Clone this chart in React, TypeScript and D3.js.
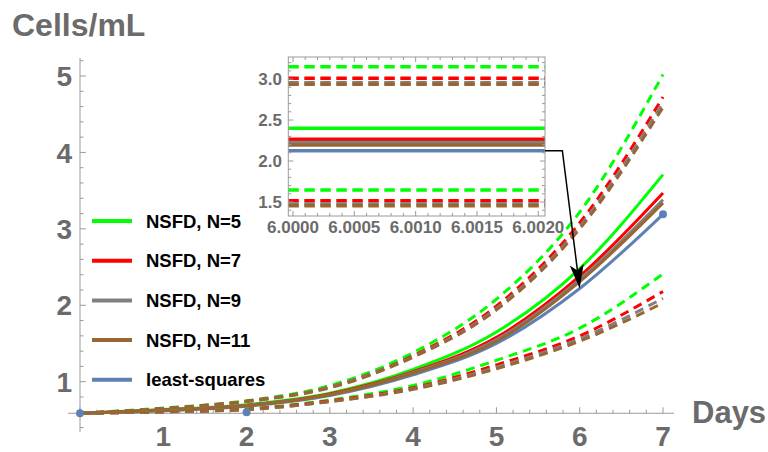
import React from 'react';
import * as d3 from 'd3';

// values (main plot, days 0..7)
const days = [0, 1, 2, 3, 4, 5, 6, 7];
const n5Mid = [0.587, 0.635, 0.7, 0.85, 1.16, 1.65, 2.48, 3.71];
const n5Hi = [0.587, 0.655, 0.75, 0.95, 1.38, 2.08, 3.22, 5.02];
const n5Lo = [0.587, 0.61, 0.645, 0.76, 0.95, 1.28, 1.7, 2.41];
const n7Mid = [0.587, 0.63, 0.69, 0.84, 1.13, 1.58, 2.38, 3.47];
const n7Hi = [0.587, 0.65, 0.745, 0.93, 1.34, 1.99, 3.08, 4.725];
const n7Lo = [0.587, 0.607, 0.64, 0.75, 0.92, 1.22, 1.6, 2.18];
const n9Mid = [0.587, 0.628, 0.69, 0.83, 1.12, 1.55, 2.34, 3.38];
const n9Hi = [0.587, 0.648, 0.74, 0.93, 1.33, 1.96, 3.03, 4.65];
const n9Lo = [0.587, 0.606, 0.635, 0.74, 0.91, 1.19, 1.56, 2.09];
const n11Mid = [0.587, 0.627, 0.69, 0.83, 1.11, 1.53, 2.31, 3.34];
const n11Hi = [0.587, 0.647, 0.74, 0.92, 1.32, 1.94, 3.0, 4.59];
const n11Lo = [0.587, 0.605, 0.635, 0.74, 0.9, 1.17, 1.53, 2.03];
const lsq = [0.587, 0.62, 0.68, 0.82, 1.09, 1.5, 2.22, 3.19];
const obsDays = [0, 2, 7];
const obsVals = [0.587, 0.6, 3.19];

const legendLabels = ['NSFD, N=5', 'NSFD, N=7', 'NSFD, N=9', 'NSFD, N=11', 'least-squares'];
const xTicks = [1, 2, 3, 4, 5, 6, 7];
const yTicks = [1, 2, 3, 4, 5];

// inset: values at t = 6 (flat over 6.0000..6.0020)
const insetXTicks = [6.0, 6.0005, 6.001, 6.0015, 6.002];
const insetYTicks = [1.5, 2.0, 2.5, 3.0];
const insetHi = [3.15, 3.01, 2.955, 2.935];
const insetMid = [2.4, 2.265, 2.225, 2.195];
const insetLo = [1.646, 1.516, 1.476, 1.455];
const insetLsq = 2.125;

const colors = ['#00ff00', '#ff0000', '#808080', '#996633', '#5e81b5'];
const font = '"Liberation Sans", Arial, sans-serif';
const axisGray = '#9a9a9a';
const labelGray = '#6b6b6b';

const x = d3.scaleLinear().domain([0, 7]).range([80, 663]);
const y = d3.scaleLinear().domain([1, 5]).range([381.7, 76]);
const x0 = x(0);
const yAxisPos = y(0.587);

const ix = d3.scaleLinear().domain([6.0, 6.002]).range([293, 538.3]);
const iy = d3.scaleLinear().domain([1.5, 3.0]).range([202, 79]);
const iLeft = 288.3, iRight = 545, iTop = 57, iBottom = 216;

const line = d3
  .line<number>()
  .x((d, i) => x(days[i]))
  .y(d => y(d))
  .curve(d3.curveMonotoneX);

const mids = [n5Mid, n7Mid, n9Mid, n11Mid];
const his = [n5Hi, n7Hi, n9Hi, n11Hi];
const los = [n5Lo, n7Lo, n9Lo, n11Lo];

export default function App() {
  const xMinor = d3.range(0, 7.01, 0.2);
  const yMinor = d3.range(0.4, 5.21, 0.2);
  const ixMinor = d3.range(6.0, 6.00205, 0.0001);
  const iyMinor = d3.range(1.4, 3.25, 0.1);

  // arrow from the inset's least-squares line to the main curve at t=6
  const aStartX = iRight;
  const aStartY = iy(insetLsq);
  const tipX = x(6);
  const tipY = y(lsq[6]);
  const cornerX = (aStartX + tipX) / 2;
  const dx = tipX - cornerX, dy = tipY - aStartY;
  const len = Math.hypot(dx, dy);
  const ux = dx / len, uy = dy / len;
  const headL = 24, headW = 7;
  const bx = tipX - ux * headL, by = tipY - uy * headL;
  const nx = tipX - ux * headL * 0.75, ny = tipY - uy * headL * 0.75;
  const head = [
    [tipX, tipY],
    [bx - uy * headW, by + ux * headW],
    [nx, ny],
    [bx + uy * headW, by - ux * headW],
  ];

  return (
    <svg width={768} height={452} style={{ position: 'absolute', left: 0, top: 0, background: '#fff' }} fontFamily={font}>
      {/* axes */}
      <line x1={x0} x2={x0} y1={58} y2={432} stroke={axisGray} strokeWidth={1} />
      <line x1={68} x2={674} y1={yAxisPos} y2={yAxisPos} stroke={axisGray} strokeWidth={1} />
      {yMinor.map((v, i) => (
        <line key={'ym' + i} x1={x0} x2={x0 + (Math.abs(v - Math.round(v)) < 0.01 ? 6 : 3.5)} y1={y(v)} y2={y(v)} stroke={axisGray} />
      ))}
      {xMinor.map((v, i) => (
        <line key={'xm' + i} x1={x(v)} x2={x(v)} y1={yAxisPos} y2={yAxisPos - (Math.abs(v - Math.round(v)) < 0.01 ? 6 : 3.5)} stroke={axisGray} />
      ))}
      {yTicks.map(v => (
        <text key={'yl' + v} x={72} y={y(v)} dy="0.36em" textAnchor="end" fontSize={28} fontWeight="bold" fill={labelGray}>{v}</text>
      ))}
      {xTicks.map(v => (
        <text key={'xl' + v} x={x(v)} y={446} textAnchor="middle" fontSize={28} fontWeight="bold" fill={labelGray}>{v}</text>
      ))}
      <text x={12} y={36} fontSize={32} fontWeight="bold" fill={labelGray}>Cells/mL</text>
      <text x={692} y={423} fontSize={31} fontWeight="bold" fill={labelGray}>Days</text>

      {/* curves */}
      <path d={line(lsq) || ''} fill="none" stroke={colors[4]} strokeWidth={3} />
      {mids.map((s, i) => (
        <path key={'m' + i} d={line(s) || ''} fill="none" stroke={colors[i]} strokeWidth={3} />
      ))}
      {his.map((s, i) => (
        <path key={'h' + i} d={line(s) || ''} fill="none" stroke={colors[i]} strokeWidth={3} strokeDasharray="9,6" />
      ))}
      {los.map((s, i) => (
        <path key={'l' + i} d={line(s) || ''} fill="none" stroke={colors[i]} strokeWidth={3} strokeDasharray="9,6" />
      ))}
      {obsDays.map((d, i) => (
        <circle key={'o' + i} cx={x(d)} cy={y(obsVals[i])} r={4} fill={colors[4]} />
      ))}

      {/* legend */}
      {legendLabels.map((t, i) => (
        <g key={'lg' + i} transform={`translate(0,${221 + i * 39.7})`}>
          <line x1={92} x2={132} y1={0} y2={0} stroke={colors[i]} strokeWidth={4} />
          <text x={146} y={0} dy="0.36em" fontSize={18.5} fontWeight="bold" fill="#000">{t}</text>
        </g>
      ))}

      {/* inset */}
      <rect x={iLeft} y={iTop} width={iRight - iLeft} height={iBottom - iTop} fill="#fff" />
      {insetHi.map((v, i) => (
        <line key={'ih' + i} x1={iLeft} x2={iRight} y1={iy(v)} y2={iy(v)} stroke={colors[i]} strokeWidth={3.5} strokeDasharray="10.5,5.5" />
      ))}
      {insetLo.map((v, i) => (
        <line key={'il' + i} x1={iLeft} x2={iRight} y1={iy(v)} y2={iy(v)} stroke={colors[i]} strokeWidth={3.5} strokeDasharray="10.5,5.5" />
      ))}
      <line x1={iLeft} x2={iRight} y1={iy(insetLsq)} y2={iy(insetLsq)} stroke={colors[4]} strokeWidth={3.5} />
      {insetMid.map((v, i) => (
        <line key={'im' + i} x1={iLeft} x2={iRight} y1={iy(v)} y2={iy(v)} stroke={colors[i]} strokeWidth={3.5} />
      ))}
      <rect x={iLeft} y={iTop} width={iRight - iLeft} height={iBottom - iTop} fill="none" stroke={axisGray} strokeWidth={1} />
      {iyMinor.filter(v => iy(v) > iTop && iy(v) < iBottom).map((v, i) => {
        const major = Math.abs(v * 2 - Math.round(v * 2)) < 0.01;
        const L = major ? 5 : 3;
        return (
          <g key={'iym' + i}>
            <line x1={iLeft} x2={iLeft + L} y1={iy(v)} y2={iy(v)} stroke={axisGray} />
            <line x1={iRight} x2={iRight - L} y1={iy(v)} y2={iy(v)} stroke={axisGray} />
          </g>
        );
      })}
      {ixMinor.map((v, i) => {
        const major = i % 5 === 0;
        const L = major ? 5 : 3;
        return (
          <g key={'ixm' + i}>
            <line x1={ix(v)} x2={ix(v)} y1={iBottom} y2={iBottom - L} stroke={axisGray} />
            <line x1={ix(v)} x2={ix(v)} y1={iTop} y2={iTop + L} stroke={axisGray} />
          </g>
        );
      })}
      {insetYTicks.map(v => (
        <text key={'iyl' + v} x={282} y={iy(v)} dy="0.36em" textAnchor="end" fontSize={17} fontWeight="bold" fill={labelGray}>{v.toFixed(1)}</text>
      ))}
      {insetXTicks.map(v => (
        <text key={'ixl' + v} x={ix(v)} y={233} textAnchor="middle" fontSize={17} fontWeight="bold" fill={labelGray}>{v.toFixed(4)}</text>
      ))}

      {/* arrow */}
      <polyline points={`${aStartX},${aStartY} ${cornerX},${aStartY} ${nx},${ny}`} fill="none" stroke="#000" strokeWidth={1.5} />
      <polygon points={head.map(p => p.join(',')).join(' ')} fill="#000" />
    </svg>
  );
}
